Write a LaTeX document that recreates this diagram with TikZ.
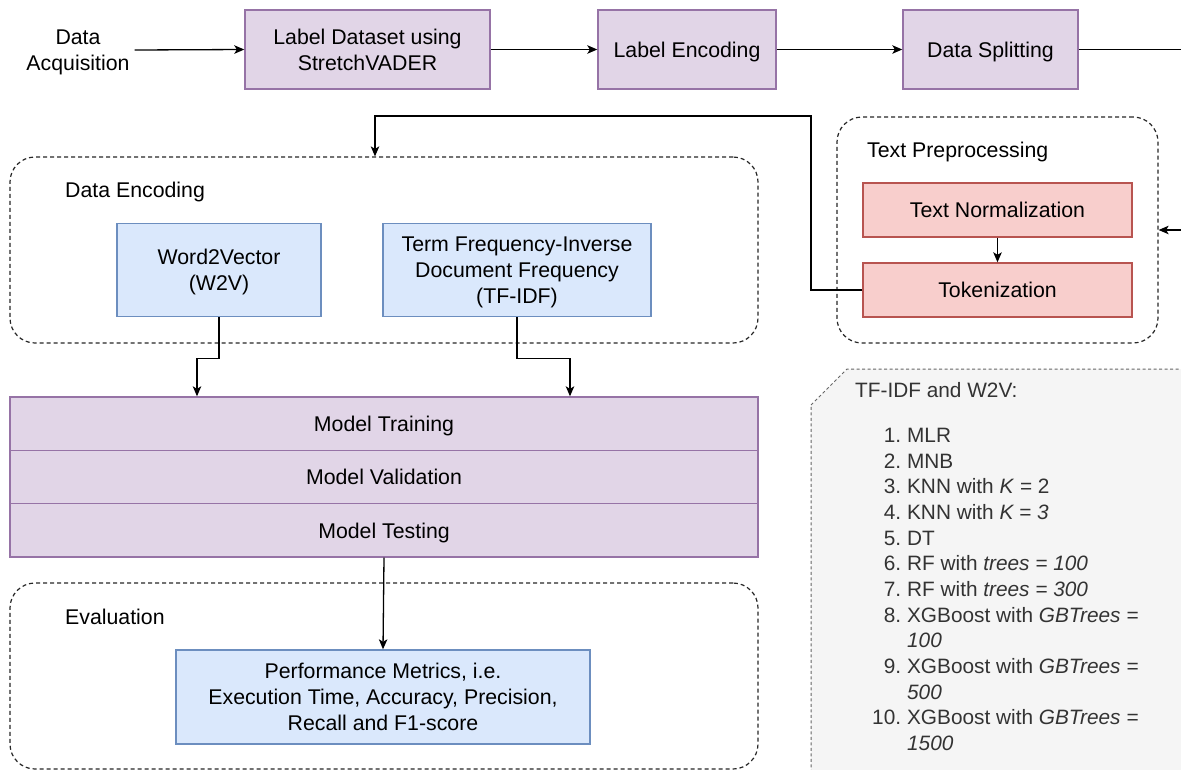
\documentclass[tikz,border=0pt]{standalone}
\usepackage{fontspec}
\setmainfont{Liberation Sans}
\usetikzlibrary{arrows.meta,calc}

\definecolor{purpfill}{HTML}{E1D5E7}
\definecolor{purpline}{HTML}{9673A6}
\definecolor{redfill}{HTML}{F8CECC}
\definecolor{redline}{HTML}{B85450}
\definecolor{bluefill}{HTML}{DAE8FC}
\definecolor{blueline}{HTML}{6C8EBF}
\definecolor{notefill}{HTML}{F5F5F5}
\definecolor{noteline}{HTML}{666666}
\definecolor{notetext}{HTML}{333333}

\tikzset{
  base/.style={font=\fontsize{21.3}{26}\selectfont, align=center, inner sep=0pt, text depth=0pt},
  purpbox/.style={base, draw=purpline, fill=purpfill, line width=1.4pt},
  redbox/.style={base, draw=redline, fill=redfill, line width=1.4pt},
  bluebox/.style={base, draw=blueline, fill=bluefill, line width=1.4pt},
  groupbox/.style={draw=black!85, line width=1.2pt, dash pattern=on 4pt off 3pt, rounded corners=25pt},
  grouplabel/.style={base, anchor=west},
  notetxt/.style={font=\fontsize{20.8}{25.65}\selectfont, inner sep=0pt, text=notetext},
  arr/.style={-{Stealth[length=10pt,width=8.5pt,inset=2.5pt]}, line width=1.3pt, draw=black},
  link/.style={line width=1.3pt, draw=black},
}

\begin{document}
\begin{tikzpicture}[x=1pt,y=-1pt]
\useasboundingbox (0,0) rectangle (1181,769);
\clip (0,0) rectangle (1181,769);

% ---- top pipeline ----
\node[base, inner sep=5pt] (acq) at (78,50) {Data\\Acquisition};
\node[purpbox, minimum width=245, minimum height=79] (b1) at (367.5,49.5) {Label Dataset using\\StretchVADER};
\node[purpbox, minimum width=178, minimum height=79] (b2) at (687,49.5) {Label Encoding};
\node[purpbox, minimum width=175, minimum height=79] (b3) at (990.5,49.5) {Data Splitting};
\coordinate (outR) at (1190,49.5);

\draw[arr] (acq.east) -- (b1.west);
\draw[arr] (b1.east) -- (b2.west);
\draw[arr] (b2.east) -- (b3.west);
\draw[link] (b3.east) -- (outR);

% ---- text preprocessing group ----
\node[groupbox, minimum width=321, minimum height=226] (tp) at (997.5,230) {};
\node[grouplabel] (tplab) at (867,150) {Text Preprocessing};
\node[redbox, minimum width=269, minimum height=54] (tn) at (997.5,210) {Text Normalization};
\node[redbox, minimum width=269, minimum height=54] (tok) at (997.5,290) {Tokenization};
\coordinate (inR) at (1190,230);
\draw[arr] (tn.south) -- (tok.north);
\draw[arr] (inR) -- (tp.east);

% ---- data encoding group ----
\node[groupbox, minimum width=748, minimum height=186] (de) at (384,250) {};
\node[grouplabel] (delab) at (65,190) {Data Encoding};
\node[bluebox, minimum width=204, minimum height=93] (w2v) at (219,270) {Word2Vector\\(W2V)};
\node[bluebox, minimum width=268, minimum height=93] (tf) at (517,270) {Term Frequency-Inverse\\Document Frequency\\(TF-IDF)};

\coordinate (k1) at (811,116);
\draw[arr] (tok.west) -| (k1) -| ([xshift=-9]de.north);

% ---- model stack ----
\node[purpbox, minimum width=748, minimum height=53.33] (train) at (384,423.67) {Model Training};
\node[purpbox, minimum width=748, minimum height=53.33] (valid) at (384,477) {Model Validation};
\node[purpbox, minimum width=748, minimum height=53.33] (test) at (384,530.33) {Model Testing};

\draw[arr] (w2v.south) -- ++(0,41) -| ([xshift=-187]train.north);
\draw[arr] (tf.south) -- ++(0,41) -| ([xshift=186]train.north);

% ---- evaluation group ----
\node[groupbox, minimum width=748, minimum height=186] (ev) at (384,676) {};
\node[grouplabel] (evlab) at (65,617) {Evaluation};
\node[bluebox, minimum width=414, minimum height=94] (perf) at (383,697) {Performance Metrics, i.e.\\Execution Time, Accuracy, Precision,\\Recall and F1-score};
\draw[arr] (test.south) -- (perf.north);

% ---- classifier note ----
\path[fill=notefill, draw=noteline, line width=1pt, dash pattern=on 3pt off 2.5pt]
  (811,405) -- (847,369) -- (1195,369) -- (1195,790) -- (811,790) -- cycle;
\node[notetxt, anchor=west] (notetitle) at (855,390) {TF-IDF and W2V:};
\node[notetxt, anchor=north west, align=left] (notelist) at (872,424.5) {%
  \begin{tabular}{@{}r@{\hspace{6pt}}l@{}}
  1. & MLR\\
  2. & MNB\\
  3. & KNN with \textit{K} = 2\\
  4. & KNN with \textit{K = 3}\\
  5. & DT\\
  6. & RF with \textit{trees = 100}\\
  7. & RF with \textit{trees = 300}\\
  8. & XGBoost with \textit{GBTrees =}\\
     & \textit{100}\\
  9. & XGBoost with \textit{GBTrees =}\\
     & \textit{500}\\
  10. & XGBoost with \textit{GBTrees =}\\
      & \textit{1500}
  \end{tabular}};
\end{tikzpicture}
\end{document}
